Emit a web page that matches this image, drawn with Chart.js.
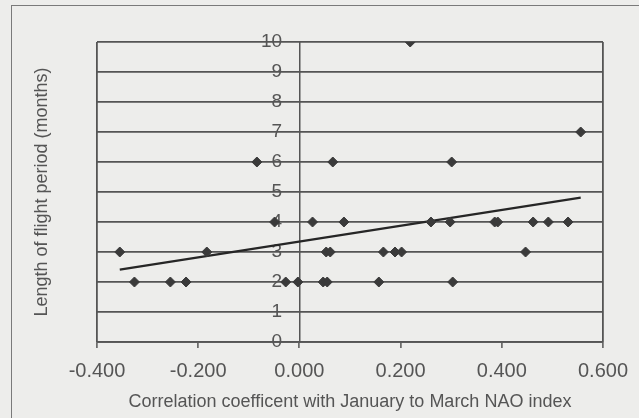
<!DOCTYPE html>
<html>
<head>
<meta charset="utf-8">
<script src="https://cdn.jsdelivr.net/npm/chart.js@4/dist/chart.umd.min.js"></script>
<style>
  html, body { margin: 0; padding: 0; background: #ededeb; overflow: hidden; }
  #wrap { position: relative; width: 639px; height: 418px; }
  #frame { position: absolute; left: 11px; top: 5px; width: 700px; height: 500px; border: 1.5px solid #7a7a7a; box-sizing: border-box; }
  canvas { position: absolute; left: 0; top: 0; }
</style>
</head>
<body>
<div id="wrap">
  <div id="frame"></div>
  <canvas id="c" width="639" height="418"></canvas>
</div>
<script>
// Correlation coefficient with Jan-Mar NAO index (x) vs length of flight period in months (y)
const naoCorrelation = [
  -0.049, 0.026, 0.088, 0.260, 0.298, 0.386, 0.392, 0.462, 0.492, 0.531,
  -0.355, -0.183, 0.053, 0.061, 0.166, 0.189, 0.202, 0.447,
  -0.326, -0.255, -0.224, -0.027, -0.003, 0.047, 0.055, 0.157, 0.303,
  -0.084, 0.066, 0.301,
  0.556,
  0.219
];
const flightMonths = [
  4, 4, 4, 4, 4, 4, 4, 4, 4, 4,
  3, 3, 3, 3, 3, 3, 3, 3,
  2, 2, 2, 2, 2, 2, 2, 2, 2,
  6, 6, 6,
  7,
  10
];
// Linear trendline end points
const trendX = [-0.355, 0.556];
const trendY = [2.41, 4.81];
// Axis ranges / ticks
const xMin = -0.4, xMax = 0.6, xStep = 0.2;
const yMin = 0, yMax = 10, yStep = 1;
const xTitle = 'Correlation coefficent with January to March NAO index';
const yTitle = 'Length of flight period (months)';

const points = naoCorrelation.map((x, i) => ({ x: x, y: flightMonths[i] }));
const trend = trendX.map((x, i) => ({ x: x, y: trendY[i] }));

const textColor = '#555555';
const lineColor = '#555555';
const FONT = '"Liberation Sans", Arial, Helvetica, sans-serif';
// y labels sit a little to the left of the vertical axis (which crosses at x = 0)
const yLabelCross = -0.034;

const yTitlePlugin = {
  id: 'yTitlePlugin',
  afterDraw(chart) {
    const ctx = chart.ctx;
    ctx.save();
    ctx.translate(42, (chart.chartArea.top + chart.chartArea.bottom) / 2);
    ctx.rotate(-Math.PI / 2);
    ctx.font = '18px ' + FONT;
    ctx.fillStyle = textColor;
    ctx.textAlign = 'center';
    ctx.textBaseline = 'middle';
    ctx.fillText(yTitle, 0, 0);
    ctx.restore();
  }
};

new Chart(document.getElementById('c'), {
  type: 'scatter',
  data: {
    datasets: [
      {
        label: 'Flight period',
        data: points,
        pointStyle: 'rectRot',
        pointRadius: 5,
        pointHoverRadius: 5,
        backgroundColor: '#3a3a3a',
        borderColor: '#3a3a3a',
        borderWidth: 1
      },
      {
        label: 'Trend',
        type: 'line',
        data: trend,
        showLine: true,
        pointRadius: 0,
        borderColor: '#262626',
        borderWidth: 2.2,
        fill: false
      }
    ]
  },
  options: {
    responsive: false,
    animation: false,
    events: [],
    layout: { padding: { left: 97, right: 36, top: 42, bottom: 0 } },
    plugins: { legend: { display: false }, tooltip: { enabled: false }, title: { display: false } },
    scales: {
      x: {
        type: 'linear',
        position: 'bottom',
        min: xMin, max: xMax,
        afterFit(scale) { scale.height = 76; },
        ticks: {
          stepSize: xStep,
          color: textColor,
          font: { family: FONT, size: 20 },
          padding: 11,
          maxRotation: 0,
          callback: v => (Math.abs(v) < 1e-9 ? 0 : v).toFixed(3)
        },
        grid: {
          drawOnChartArea: true,
          drawTicks: true,
          tickLength: 6,
          lineWidth: 1.8,
          tickWidth: 1.5,
          tickColor: lineColor,
          color: ctx => {
            const v = ctx.tick ? ctx.tick.value : null;
            if (v === null) return 'transparent';
            return (Math.abs(v - xMin) < 1e-9 || Math.abs(v - xMax) < 1e-9) ? lineColor : 'transparent';
          }
        },
        border: { display: true, color: lineColor, width: 1.8 },
        title: {
          display: true,
          text: xTitle,
          color: textColor,
          font: { family: FONT, size: 18 },
          padding: { top: 0, bottom: 5 }
        }
      },
      y: {
        type: 'linear',
        position: { x: 0 },
        min: yMin, max: yMax,
        ticks: { stepSize: yStep, display: false },
        grid: {
          drawTicks: false,
          color: lineColor,
          lineWidth: 1.8
        },
        border: { display: true, color: lineColor, width: 1.5 }
      },
      yLabels: {
        type: 'linear',
        position: { x: yLabelCross },
        min: yMin, max: yMax,
        ticks: {
          stepSize: yStep,
          color: textColor,
          font: { family: FONT, size: 19 },
          padding: 0,
          autoSkip: false
        },
        grid: { display: false, drawTicks: false },
        border: { display: false }
      }
    }
  },
  plugins: [yTitlePlugin]
});
</script>
</body>
</html>
